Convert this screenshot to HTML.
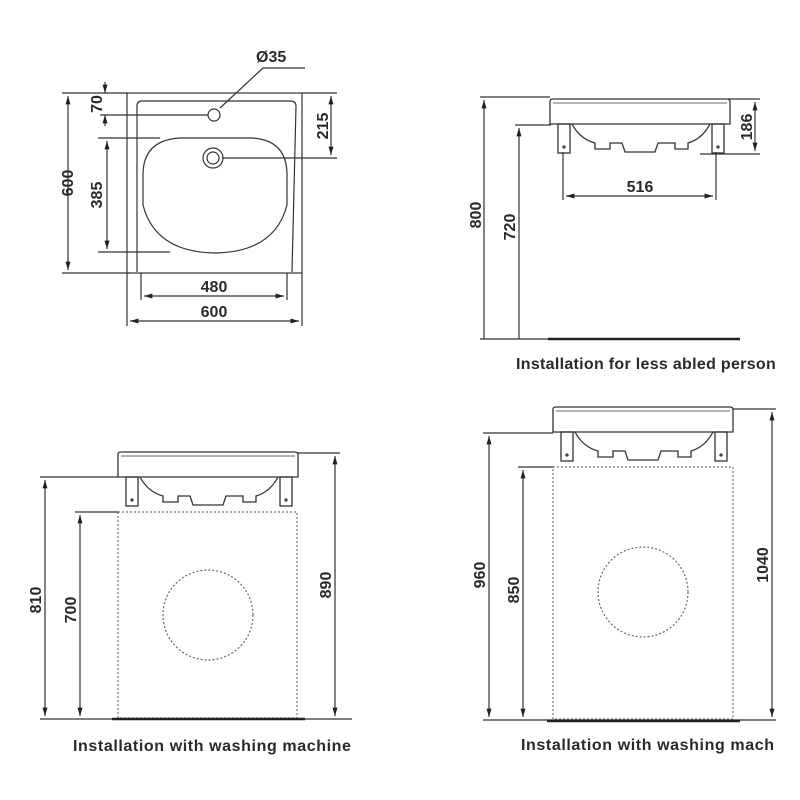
<!DOCTYPE html>
<html><head><meta charset="utf-8"><style>
html,body{margin:0;padding:0;background:#fff;}
svg{display:block;}
text{font-family:"Liberation Sans",sans-serif;font-weight:bold;fill:#2a2a2a;}
</style></head><body>
<svg width="800" height="800" viewBox="0 0 800 800" xmlns="http://www.w3.org/2000/svg">
<defs>
<marker id="a" viewBox="0 0 10 10" refX="10" refY="5" markerWidth="7" markerHeight="7" orient="auto-start-reverse"><path d="M0,2 L10,5 L0,8 z" fill="#222"/></marker>
<g id="sink" fill="none" stroke="#333" stroke-width="1.3">
<path d="M0,2 Q0,0 3,0 L177,0 Q180,0 180,3 L180,25 L0,25 Z" fill="#fff"/>
<line x1="3" y1="4" x2="177" y2="4" stroke-width="0.8"/>
<path d="M22,25 Q30,40 45,44 L45,50 L60,50 L60,44 L72,44 L75,53 L105,53 L108,44 L125,44 L125,50 L138,50 L138,44 Q152,40 160,25"/>
<rect x="8" y="25" width="12" height="29"/>
<rect x="162" y="25" width="12" height="29"/>
<circle cx="14" cy="48" r="1"/><circle cx="168" cy="48" r="1"/>
</g>
</defs>
<g stroke="#333" stroke-width="1.2" fill="none">
<rect x="127" y="93" width="175" height="180"/>
<path d="M137,272 L137,106 Q137,101 142,101 L290,101 Q296,101 296,106 L292,272"/>
<path d="M143,175 Q143,140 180,138 L252,138 Q287,140 287,175 L287,205 Q275,252 215,253 Q155,252 143,205 Z"/>
<circle cx="214" cy="115" r="6"/>
<circle cx="213" cy="158" r="10"/><circle cx="213" cy="158" r="6"/>
<line x1="62" y1="93" x2="127" y2="93"/><line x1="62" y1="273" x2="130" y2="273"/>
<line x1="68" y1="96" x2="68" y2="270" marker-start="url(#a)" marker-end="url(#a)"/>
<line x1="100" y1="115" x2="208" y2="115"/>
<line x1="105" y1="82" x2="105" y2="93" marker-end="url(#a)"/>
<line x1="105" y1="126" x2="105" y2="115" marker-end="url(#a)"/>
<line x1="98" y1="138" x2="160" y2="138"/><line x1="98" y1="252" x2="170" y2="252"/>
<line x1="107" y1="141" x2="107" y2="249" marker-start="url(#a)" marker-end="url(#a)"/>
<line x1="302" y1="93" x2="337" y2="93"/><line x1="222" y1="158" x2="337" y2="158"/>
<line x1="331" y1="96" x2="331" y2="155" marker-start="url(#a)" marker-end="url(#a)"/>
<line x1="141" y1="273" x2="141" y2="300"/><line x1="287" y1="273" x2="287" y2="300"/>
<line x1="144" y1="296" x2="284" y2="296" marker-start="url(#a)" marker-end="url(#a)"/>
<line x1="127" y1="273" x2="127" y2="326"/><line x1="302" y1="273" x2="302" y2="326"/>
<line x1="130" y1="321" x2="299" y2="321" marker-start="url(#a)" marker-end="url(#a)"/>
<polyline points="305,68 263,68 220,108"/>
</g>
<g font-size="16">
<text x="256" y="62">Ø35</text>
<text transform="translate(102,104) rotate(-90)" text-anchor="middle">70</text>
<text transform="translate(73,183) rotate(-90)" text-anchor="middle">600</text>
<text transform="translate(102,195) rotate(-90)" text-anchor="middle">385</text>
<text transform="translate(328,126) rotate(-90)" text-anchor="middle">215</text>
<text x="214" y="292" text-anchor="middle">480</text>
<text x="214" y="317" text-anchor="middle">600</text>
</g>

<use href="#sink" x="550" y="99"/>
<g stroke="#333" stroke-width="1.2" fill="none">
<line x1="480" y1="97" x2="550" y2="97"/><line x1="728" y1="99" x2="760" y2="99"/>
<line x1="700" y1="154" x2="760" y2="154"/>
<line x1="755" y1="102" x2="755" y2="151" marker-start="url(#a)" marker-end="url(#a)"/>
<line x1="484" y1="100" x2="484" y2="339" marker-start="url(#a)"/>
<line x1="515" y1="125" x2="551" y2="125"/>
<line x1="519" y1="128" x2="519" y2="339" marker-start="url(#a)"/>
<line x1="480" y1="339" x2="548" y2="339"/>
<line x1="563" y1="152" x2="563" y2="200"/><line x1="716" y1="152" x2="716" y2="200"/>
<line x1="566" y1="196" x2="713" y2="196" marker-start="url(#a)" marker-end="url(#a)"/>
</g>
<line x1="548" y1="339" x2="740" y2="339" stroke="#222" stroke-width="2.5"/>
<g font-size="16">
<text transform="translate(481,215) rotate(-90)" text-anchor="middle">800</text>
<text transform="translate(515,227) rotate(-90)" text-anchor="middle">720</text>
<text transform="translate(752,127) rotate(-90)" text-anchor="middle">186</text>
<text x="640" y="192" text-anchor="middle">516</text>
</g>
<text x="516" y="369" font-size="16" letter-spacing="0.3">Installation for less abled person</text>

<use href="#sink" x="118" y="452"/>
<g stroke="#333" stroke-width="1.2" fill="none">
<rect x="118" y="512" width="179" height="206" stroke-dasharray="2,2" stroke="#777"/>
<circle cx="208" cy="615" r="45" stroke-dasharray="2,2" stroke="#666"/>
<line x1="40" y1="477" x2="118" y2="477"/>
<line x1="45" y1="480" x2="45" y2="716" marker-start="url(#a)" marker-end="url(#a)"/>
<line x1="75" y1="512" x2="118" y2="512"/>
<line x1="80" y1="515" x2="80" y2="716" marker-start="url(#a)" marker-end="url(#a)"/>
<line x1="297" y1="453" x2="340" y2="453"/>
<line x1="335" y1="456" x2="335" y2="716" marker-start="url(#a)" marker-end="url(#a)"/>
<line x1="40" y1="719" x2="352" y2="719"/>
</g>
<line x1="112" y1="719" x2="305" y2="719" stroke="#222" stroke-width="2.5"/>
<g font-size="16">
<text transform="translate(41,600) rotate(-90)" text-anchor="middle">810</text>
<text transform="translate(76,610) rotate(-90)" text-anchor="middle">700</text>
<text transform="translate(331,585) rotate(-90)" text-anchor="middle">890</text>
</g>
<text x="73" y="751" font-size="16" letter-spacing="0.6">Installation with washing machine</text>

<use href="#sink" x="553" y="407"/>
<g stroke="#333" stroke-width="1.2" fill="none">
<rect x="553" y="467" width="180" height="252" stroke-dasharray="2,2" stroke="#777"/>
<circle cx="643" cy="592" r="45" stroke-dasharray="2,2" stroke="#666"/>
<line x1="483" y1="433" x2="553" y2="433"/>
<line x1="489" y1="436" x2="489" y2="717" marker-start="url(#a)" marker-end="url(#a)"/>
<line x1="518" y1="467" x2="553" y2="467"/>
<line x1="523" y1="470" x2="523" y2="717" marker-start="url(#a)" marker-end="url(#a)"/>
<line x1="733" y1="409" x2="776" y2="409"/>
<line x1="772" y1="412" x2="772" y2="717" marker-start="url(#a)" marker-end="url(#a)"/>
<line x1="483" y1="720" x2="776" y2="720"/>
</g>
<line x1="547" y1="721" x2="740" y2="721" stroke="#222" stroke-width="2.5"/>
<g font-size="16">
<text transform="translate(485,575) rotate(-90)" text-anchor="middle">960</text>
<text transform="translate(519,590) rotate(-90)" text-anchor="middle">850</text>
<text transform="translate(768,565) rotate(-90)" text-anchor="middle">1040</text>
</g>
<text x="521" y="750" font-size="16" letter-spacing="0.6">Installation with washing mach</text>
</svg>
</body></html>
